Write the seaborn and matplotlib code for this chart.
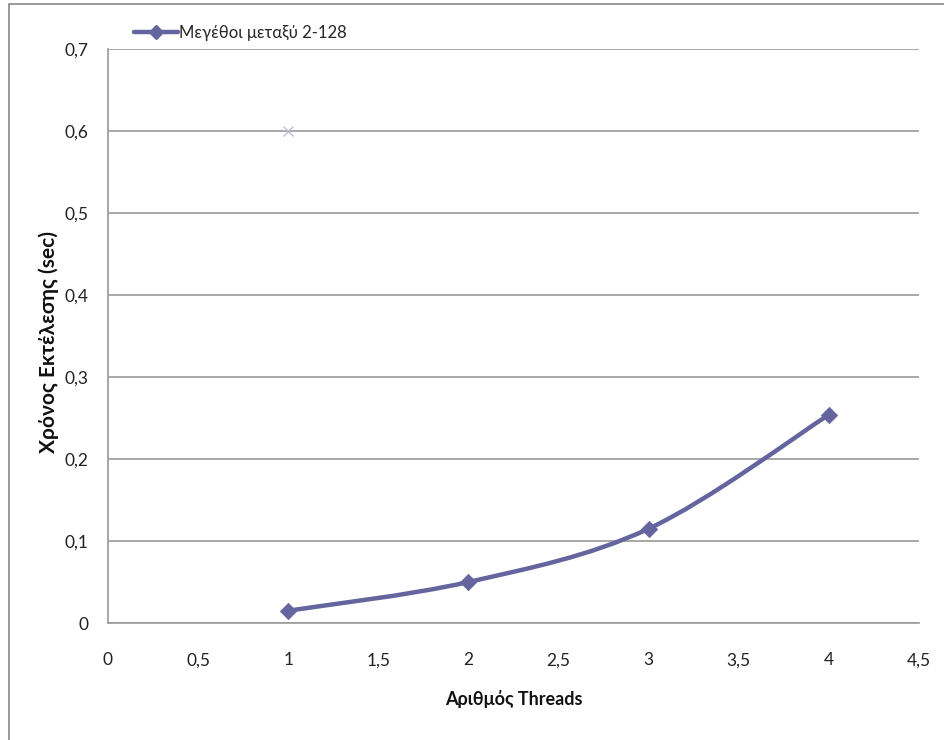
import numpy as np
import pandas as pd
import matplotlib
matplotlib.use("Agg")
import matplotlib.pyplot as plt
import seaborn as sns
from matplotlib.path import Path
from matplotlib.patches import PathPatch, Rectangle
from matplotlib.lines import Line2D
from matplotlib.ticker import FuncFormatter, MultipleLocator

threads = [1, 2, 3, 4]
times = [0.015, 0.05, 0.115, 0.254]
series_name = "Μεγέθοι μεταξύ 2-128"
x_label = "Αριθμός Threads"
y_label = "Χρόνος Εκτέλεσης (sec)"
stray_x = [1]
stray_y = [0.6]

sns.set_theme(style="white")
plt.rcParams['font.family'] = ['Lato', 'Noto Sans', 'DejaVu Sans']

LINE = '#64649E'
GRID = '#9a9a9a'

df = pd.DataFrame({"threads": threads, "time": times})

fig = plt.figure(figsize=(9.45, 7.4), dpi=100)
ax = fig.add_axes([108/945, 1-623/740, (919-108)/945, (623-49)/740])

# outer chart frame
fig.patches.append(Rectangle((9/945, -0.01), 1.0, 1-4/740+0.01, transform=fig.transFigure,
                             fill=False, edgecolor='#888888', linewidth=1.2))

# smoothed curve (Catmull-Rom style bezier from data points)
P = np.column_stack([threads, times]).astype(float)
n = len(P)
verts = [tuple(P[0])]
codes = [Path.MOVETO]
for i in range(n - 1):
    p0 = P[i - 1] if i > 0 else P[i]
    p1 = P[i]
    p2 = P[i + 1]
    p3 = P[i + 2] if i + 2 < n else P[i + 1]
    c1 = p1 + (p2 - p0) / 6.0
    c2 = p2 - (p3 - p1) / 6.0
    verts += [tuple(c1), tuple(c2), tuple(p2)]
    codes += [Path.CURVE4] * 3
ax.add_patch(PathPatch(Path(verts, codes), facecolor='none', edgecolor=LINE,
                       linewidth=3.2, capstyle='round', joinstyle='round', zorder=3))

sns.scatterplot(data=df, x="threads", y="time", marker='D', s=70, color=LINE,
                edgecolor=LINE, linewidth=0.5, ax=ax, zorder=4, legend=False)

ax.plot(stray_x, stray_y, marker='x', linestyle='none', color='#b8b8d0',
        markersize=7, markeredgewidth=0.9, zorder=2)

ax.set_xlim(0, 4.5)
ax.set_ylim(0, 0.7)
ax.xaxis.set_major_locator(MultipleLocator(0.5))
ax.yaxis.set_major_locator(MultipleLocator(0.1))
fmt = FuncFormatter(lambda v, p: ('%g' % round(v, 2)).replace('.', ','))
ax.xaxis.set_major_formatter(fmt)
ax.yaxis.set_major_formatter(fmt)

ax.yaxis.grid(True, color=GRID, linewidth=1.2)
ax.xaxis.grid(False)
ax.set_axisbelow(True)
for s in ['top', 'right']:
    ax.spines[s].set_visible(False)
for s in ['left', 'bottom']:
    ax.spines[s].set_color(GRID)
    ax.spines[s].set_linewidth(1.2)

ax.tick_params(axis='both', which='major', direction='out', length=5, width=1.2,
               color=GRID, labelsize=12.5, labelcolor='#222222')
ax.tick_params(axis='x', pad=16)
ax.tick_params(axis='y', pad=9)
ax.set_xlabel(x_label, fontsize=13, fontweight='bold', color='#111111', labelpad=16)
ax.set_ylabel(y_label, fontsize=15, fontweight='bold', color='#111111')
ax.yaxis.set_label_coords(-0.061, 0.49)

handle = Line2D([0], [0], color=LINE, linewidth=3.2, marker='D', markersize=7)
leg = fig.legend([handle], [series_name], loc='center left',
                 bbox_to_anchor=(126/945, 1-33/740), frameon=False,
                 fontsize=12, handlelength=2.6, handletextpad=0.1, borderpad=0)

fig.savefig("out.png", dpi=100)
